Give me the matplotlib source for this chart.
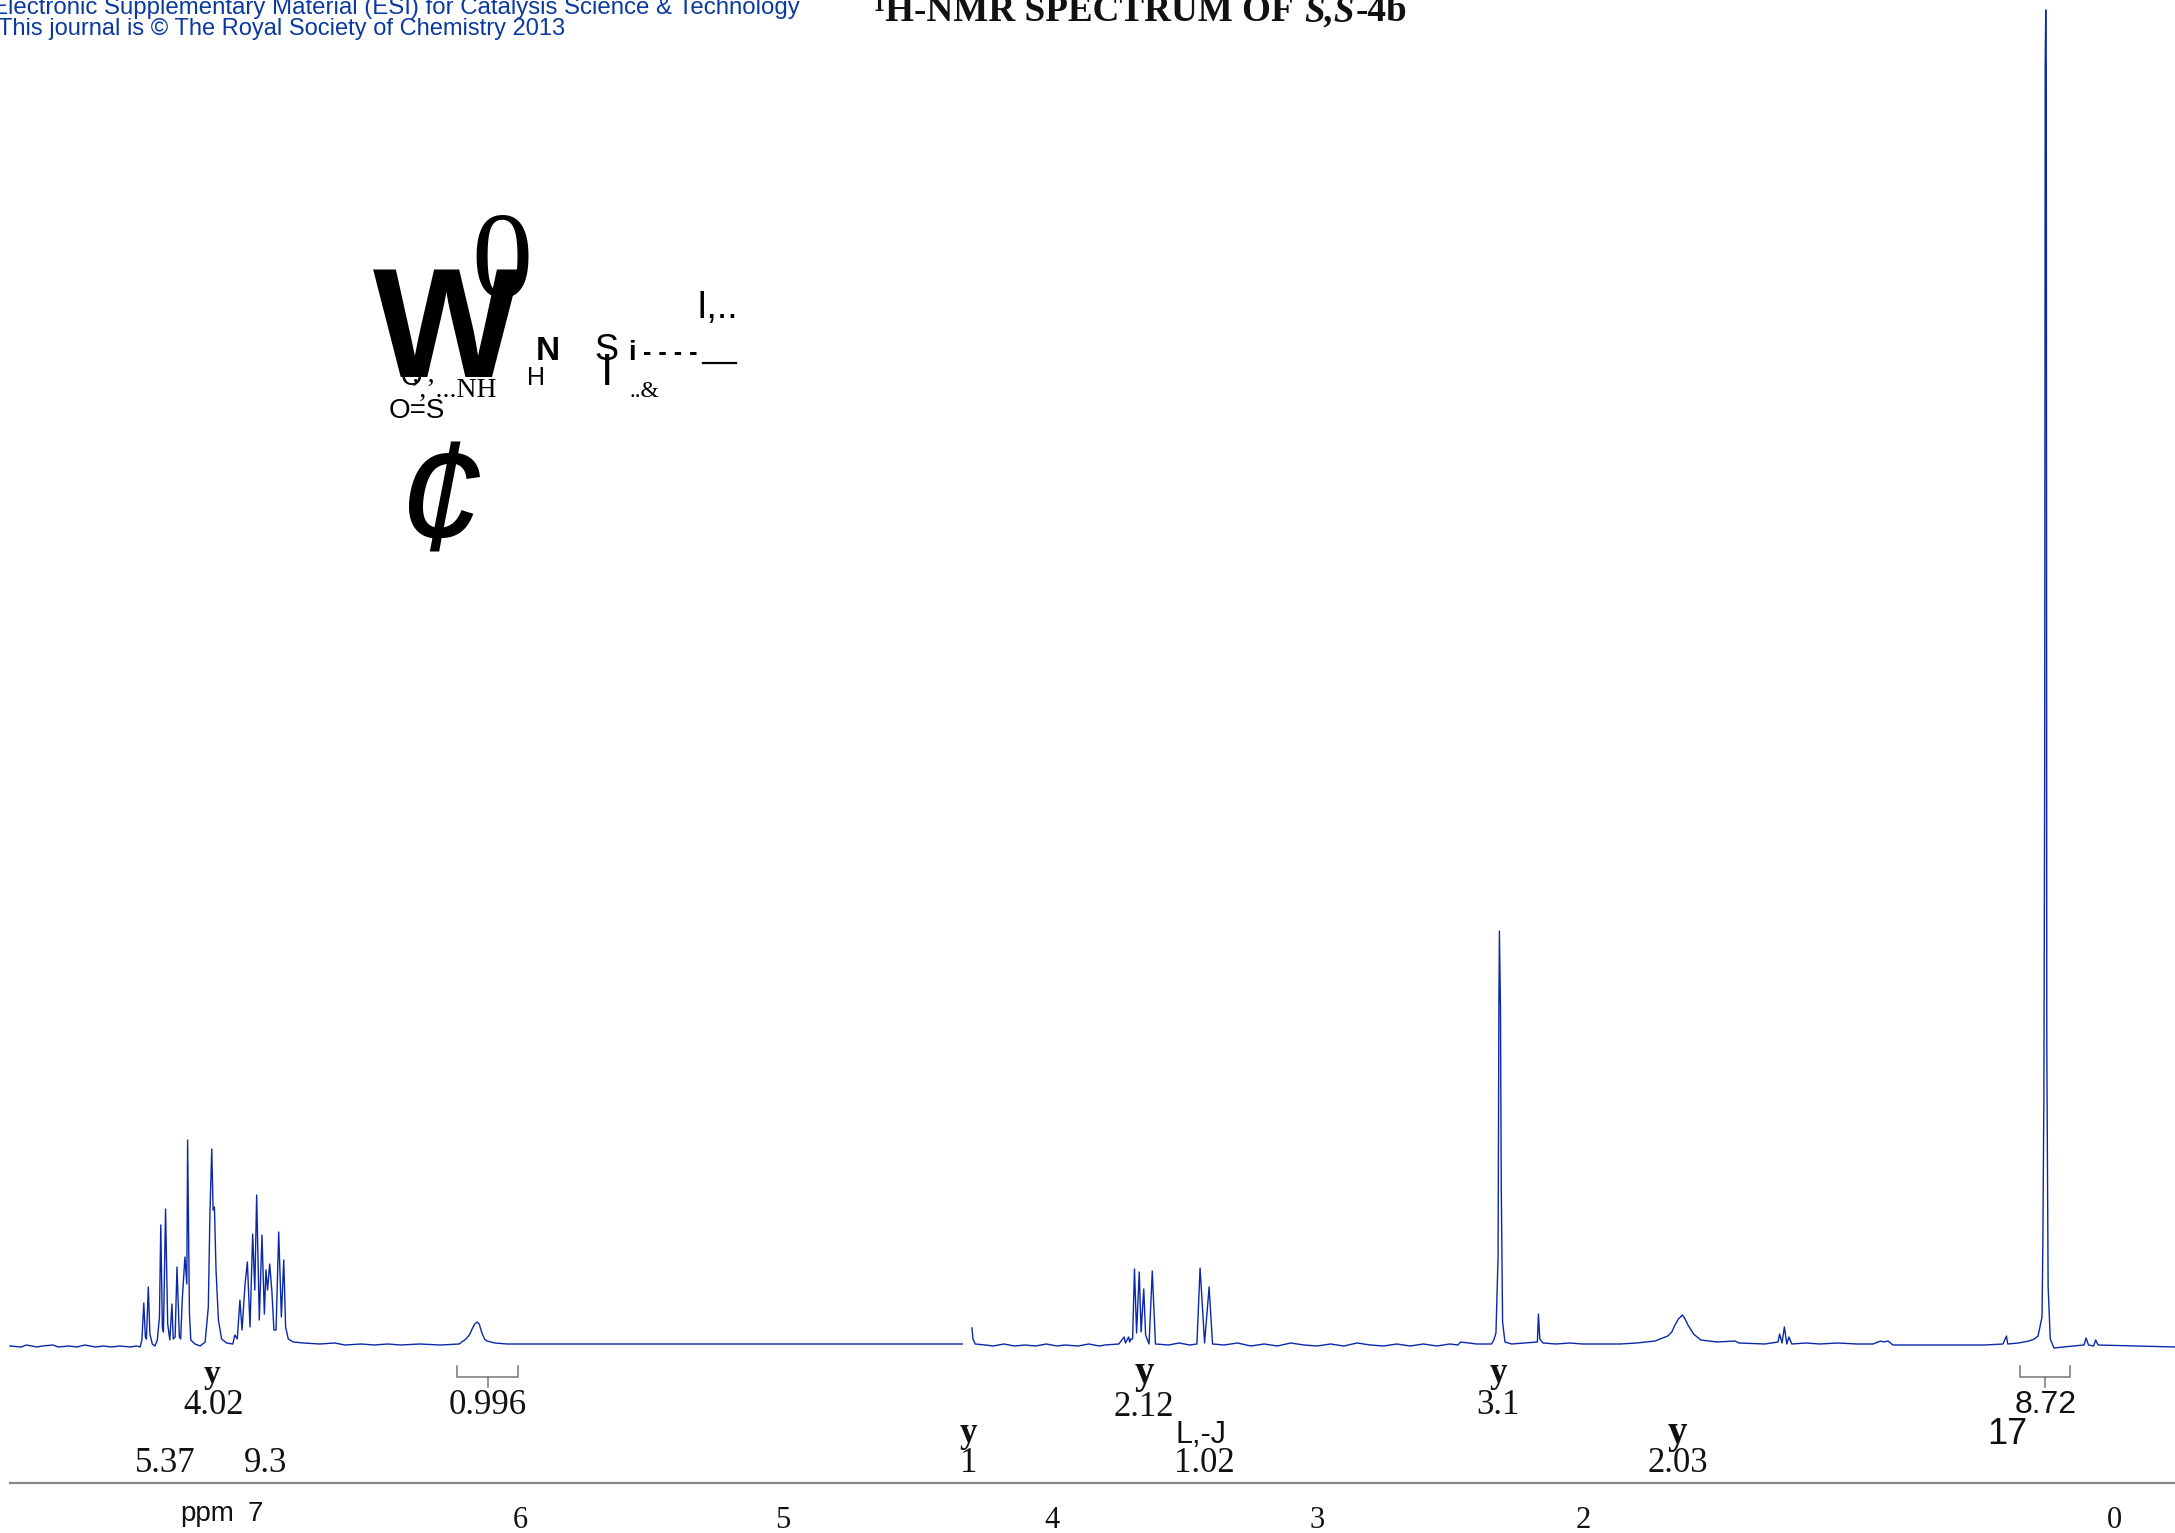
import matplotlib
matplotlib.use("Agg")
import matplotlib.pyplot as plt

W, H = 2175, 1533
BLUE = "#0A28A8"
HEAD = "#0B3A9E"
GREY = "#777777"

# spectrum, left of the solvent gap
ppm_a = [7.922, 7.88, 7.86, 7.82, 7.80, 7.76, 7.74, 7.70, 7.67, 7.64, 7.60, 7.57, 7.54, 7.508, 7.47, 7.445,
         7.432, 7.425, 7.418, 7.412, 7.408, 7.401, 7.395, 7.386,
         7.376, 7.367, 7.359, 7.354, 7.348, 7.344, 7.336, 7.328, 7.320, 7.312, 7.307, 7.300,
         7.293, 7.284, 7.279, 7.273, 7.263, 7.256, 7.253, 7.246, 7.241, 7.225, 7.206, 7.187,
         7.175, 7.169, 7.162, 7.157, 7.152, 7.146, 7.137, 7.125, 7.106, 7.083, 7.075, 7.066,
         7.056, 7.048, 7.037, 7.028, 7.018, 7.008, 7.000, 6.993, 6.983, 6.973, 6.964, 6.958,
         6.952, 6.944, 6.936, 6.928, 6.920, 6.910, 6.900, 6.891, 6.884, 6.874, 6.855, 6.817,
         6.755, 6.70, 6.66, 6.60, 6.55, 6.50, 6.45, 6.38, 6.30, 6.231, 6.205, 6.190, 6.182, 6.172, 6.163,
         6.155, 6.145, 6.135, 6.126, 6.096, 6.05, 5.90, 5.50, 5.00, 4.336]
int_a = [1, 0, 2, 0, 1, 2, 0, 1, 0, 2, 0, 1, 0, 1, 0, 1,
         0, 7, 44, 10, 8, 60, 13, 3,
         1, 7, 30, 122, 20, 15, 138, 23, 7, 43, 8, 10,
         80, 10, 8, 48, 90, 63, 207, 33, 7, 3, 1, 5,
         40, 133, 198, 137, 140, 77, 27, 8, 4, 3, 12, 8,
         47, 17, 62, 85, 20, 113, 57, 152, 27, 112, 33, 77,
         57, 83, 57, 17, 17, 115, 30, 87, 20, 8, 5, 4,
         3, 4, 2, 3, 2, 3, 2, 3, 2, 3, 8, 13, 18, 23, 25,
         23, 14, 8, 6, 4, 3, 3, 3, 3, 3]

# spectrum, right of the gap
ppm_b = [4.300, 4.296, 4.288, 4.25, 4.22, 4.18, 4.14, 4.10, 4.06, 4.02, 3.98, 3.95, 3.90, 3.86, 3.82, 3.80,
         3.747, 3.727, 3.722, 3.710, 3.706, 3.702, 3.695, 3.688,
         3.680, 3.670, 3.663, 3.653, 3.646, 3.633, 3.621, 3.609, 3.56, 3.52, 3.48, 3.453, 3.441, 3.424, 3.407, 3.394,
         3.35, 3.30, 3.25, 3.20, 3.15, 3.10, 3.05, 3.00, 2.95, 2.90, 2.85, 2.80, 2.75, 2.70, 2.65, 2.60, 2.55, 2.50,
         2.470, 2.460, 2.40, 2.344, 2.335, 2.327, 2.319, 2.316, 2.314, 2.310, 2.307, 2.302, 2.293, 2.268,
         2.175, 2.171, 2.167, 2.162, 2.150, 2.10, 2.05, 2.00, 1.935, 1.86, 1.797, 1.728, 1.680, 1.665, 1.653, 1.640,
         1.625, 1.615, 1.604, 1.583,
         1.556, 1.494, 1.427, 1.412, 1.314, 1.265, 1.259, 1.250, 1.241, 1.232, 1.224, 1.213,
         1.16, 1.107, 1.04, 0.969, 0.907, 0.879, 0.866, 0.851, 0.832, 0.70, 0.486, 0.418, 0.405, 0.400, 0.36, 0.320,
         0.300, 0.286, 0.271, 0.268, 0.264, 0.261, 0.259, 0.257, 0.255, 0.253, 0.248, 0.240, 0.226,
         0.154, 0.113, 0.105, 0.096, 0.077, 0.069, 0.060, -0.230]
int_b = [19, 8, 3, 2, 1, 3, 1, 2, 1, 3, 1, 2, 1, 3, 1, 2,
         3, 10, 4, 10, 5, 8, 8, 78,
         14, 75, 15, 58, 12, 3, 76, 3, 2, 4, 2, 3, 79, 4, 60, 3,
         2, 4, 1, 3, 1, 4, 2, 1, 3, 1, 4, 2, 1, 3, 1, 3, 1, 3,
         2, 5, 3, 3, 7, 14, 90, 339, 416, 339, 160, 25, 5, 3,
         5, 5, 33, 8, 4, 3, 4, 3, 3, 3, 4, 6, 11, 15, 22, 28,
         32, 28, 22, 13,
         7, 5, 6, 4, 3, 5, 13, 4, 20, 3, 10, 3,
         4, 3, 4, 3, 3, 6, 5, 6, 2, 2, 2, 3, 11, 3, 4, 6,
         8, 11, 30, 100, 250, 570, 1280, 1337, 1280, 300, 60, 8, -1,
         1, 2, 9, 2, 1, 7, 2, 0]

# axis tick labels
tick_ppm = [6, 5.012, 4, 3, 2, 0]
tick_text = ["6", "5", "4", "3", "2", "0"]

# integrals: text, x, y
serif_labels = [("4.02", 214, 1406), ("0.996", 488, 1406), ("2.12", 1144, 1407), ("3.1", 1498, 1406),
                ("1", 969, 1463), ("1.02", 1204, 1463), ("2.03", 1678, 1463),
                ("5.37", 165, 1464), ("9.3", 266, 1464)]
hooks = [(212, 1374, 24), (1144, 1374, 28), (1498, 1374, 25), (968, 1434, 25), (1677, 1434, 28)]
brackets = [(457, 518, 488), (2020, 2070, 2045)]

fig = plt.figure(figsize=(W / 100, H / 100), dpi=100)
ax = fig.add_axes([0, 0, 1, 1])
ax.set_xlim(2114 / 265.6, (2114 - W) / 265.6)
ax.set_ylim(-186, 1347)
ax.axis("off")
ax.plot(ppm_a, int_a, color=BLUE, lw=1.0)
ax.plot(ppm_b, int_b, color=BLUE, lw=1.0)

# everything else sits on a pixel grid on top of the spectrum
ov = fig.add_axes([0, 0, 1, 1])
ov.set_xlim(0, W)
ov.set_ylim(H, 0)
ov.axis("off")
ov.patch.set_alpha(0)


def put(s, x, y, size, family="Liberation Sans", ha="center", va="center", **kw):
    kw.setdefault("color", "#111111")
    return ov.text(x, y, s, fontsize=size, family=family, ha=ha, va=va, clip_on=False, **kw)


# header
put("Electronic Supplementary Material (ESI) for Catalysis Science & Technology", 800, 14, 17.3,
    ha="right", va="baseline", color=HEAD)
put("This journal is © The Royal Society of Chemistry 2013", 565, 35, 17.0,
    ha="right", va="baseline", color=HEAD)
put("¹H-NMR SPECTRUM OF", 874, 21, 26.7, "Liberation Serif", ha="left", va="baseline", weight="bold")
put("S,S", 1304, 21, 26.7, "Liberation Serif", ha="left", va="baseline", weight="bold", style="italic")
put("-4b", 1356, 21, 26.7, "Liberation Serif", ha="left", va="baseline", weight="bold")

# structure fragments
put("O", 411, 385, 20, va="baseline", color="#000000")
put("W", 446, 377, 112, va="baseline", weight="bold", color="#000000")
put("0", 502, 297, 88, "Liberation Serif", va="baseline", color="#000000")
put("¢", 440, 549, 112, va="baseline", style="italic", color="#000000")
put("’,’...NH", 497, 397, 20, "Liberation Serif", ha="right", va="baseline", color="#000000")
put("O=S", 417, 418, 20, va="baseline", color="#000000")
put("N", 548, 360, 24, va="baseline", weight="bold", color="#000000")
put("H", 536, 385, 18, va="baseline", color="#000000")
put("S", 606, 360, 26, va="baseline", color="#000000")
put("I", 607, 385, 32, va="baseline", color="#000000")
put("i", 632, 360, 20, va="baseline", weight="bold", color="#000000")
put("- - - -", 670, 360, 18, va="baseline", weight="bold", color="#000000")
ov.plot([703, 736], [363, 363], color="#000000", lw=1.6)
put("I,..", 717, 318, 27, va="baseline", color="#000000")
put("..&", 644, 397, 17, "Liberation Serif", va="baseline", color="#000000")

# integrals
for x, y, size in hooks:
    put("y", x, y, size, "Liberation Serif", weight="bold")
for s, x, y in serif_labels:
    put(s, x, y, 25, "Liberation Serif")
put("8.72", 2046, 1405, 23)
put("L,-J", 1201, 1435, 22)
put("17", 2007, 1435, 26)
for x0, x1, xm in brackets:
    ov.plot([x0, x0, x1, x1], [1366, 1377, 1377, 1366], color=GREY, lw=1.1)
    ov.plot([xm, xm], [1377, 1387], color=GREY, lw=1.1)

# ppm axis
ov.plot([10, W], [1483, 1483], color="#888888", lw=1.6)
put("ppm", 207, 1514, 20)
put("7", 255, 1514, 20)
for p, s in zip(tick_ppm, tick_text):
    put(s, 2114 - 265.6 * p, 1521, 22, "Liberation Serif")

fig.savefig("out.png", dpi=100)
